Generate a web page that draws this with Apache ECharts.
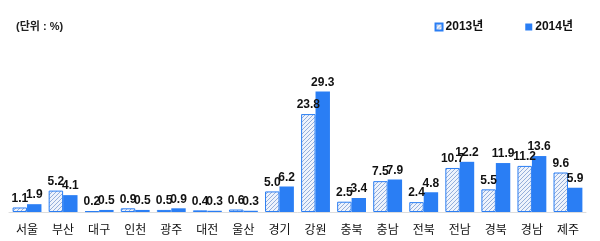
<!DOCTYPE html>
<html><head><meta charset="utf-8">
<script src="https://cdn.jsdelivr.net/npm/echarts@6/dist/echarts.min.js"></script>
<style>html,body{margin:0;padding:0;background:#fff}#c{width:600px;height:241px}</style>
</head><body><div id="c"></div>
<script>
const categories = ['서울','부산','대구','인천','광주','대전','울산','경기','강원','충북','충남','전북','전남','경북','경남','제주'];
const seriesNames = ['2013년','2014년'];
const values2013 = [1.1,5.2,0.2,0.9,0.5,0.4,0.6,5.0,23.8,2.5,7.5,2.4,10.7,5.5,11.2,9.6];
const values2014 = [1.9,4.1,0.5,0.5,0.9,0.3,0.3,6.2,29.3,3.4,7.9,4.8,12.2,11.9,13.6,5.9];
const unitText = '(단위 : %)';

const blue = '#2A7EF4';
function makePattern(){
  const c = document.createElement('canvas');
  c.width = 4; c.height = 4;
  const g = c.getContext('2d');
  g.fillStyle = '#eef3fc'; g.fillRect(0,0,4,4);
  g.strokeStyle = '#94aedb'; g.lineWidth = 1;
  g.beginPath();
  g.moveTo(0,4); g.lineTo(4,0);
  g.moveTo(-1,1); g.lineTo(1,-1);
  g.moveTo(3,5); g.lineTo(5,3);
  g.stroke();
  return c;
}
const pattern = {image: makePattern(), repeat: 'repeat'};
const font = '"Liberation Sans", Arial, "Noto Sans CJK KR", sans-serif';
const fmt = p => Number(p.value).toFixed(1);
const chart = echarts.init(document.getElementById('c'));
chart.setOption({
  animation: false,
  textStyle: {fontFamily: font},
  title: {text: unitText, left: 11, top: 16, textStyle: {fontSize: 11, fontWeight: 'bold', color: '#222', fontFamily: font}},
  legend: {
    right: 22, top: 16, itemWidth: 7, itemHeight: 7, itemGap: 42, icon: 'rect',
    textStyle: {fontSize: 12, fontWeight: 'bold', color: '#111', padding: [0,0,0,-2]},
    data: seriesNames
  },
  grid: {left: 9, right: 14, top: 68, bottom: 29, containLabel: false},
  xAxis: {
    type: 'category', data: categories,
    axisLine: {show: true, lineStyle: {color: '#dddddd'}},
    axisTick: {show: false},
    axisLabel: {fontSize: 12, color: '#111', margin: 11, fontFamily: '"Noto Sans CJK KR", sans-serif'}
  },
  yAxis: {type: 'value', min: 0, max: 35, show: false, splitLine: {show: false}},
  series: [
    {name: seriesNames[0], type: 'bar', data: values2013, barGap: '0%', barCategoryGap: '20%',
     itemStyle: {color: pattern, borderColor: blue, borderWidth: 1},
     label: {show: true, position: 'top', distance: 3, fontSize: 12, fontWeight: 'bold', color: '#111', formatter: fmt}},
    {name: seriesNames[1], type: 'bar', data: values2014,
     itemStyle: {color: blue},
     label: {show: true, position: 'top', distance: 3, fontSize: 12, fontWeight: 'bold', color: '#111', formatter: fmt}}
  ]
});
</script></body></html>
